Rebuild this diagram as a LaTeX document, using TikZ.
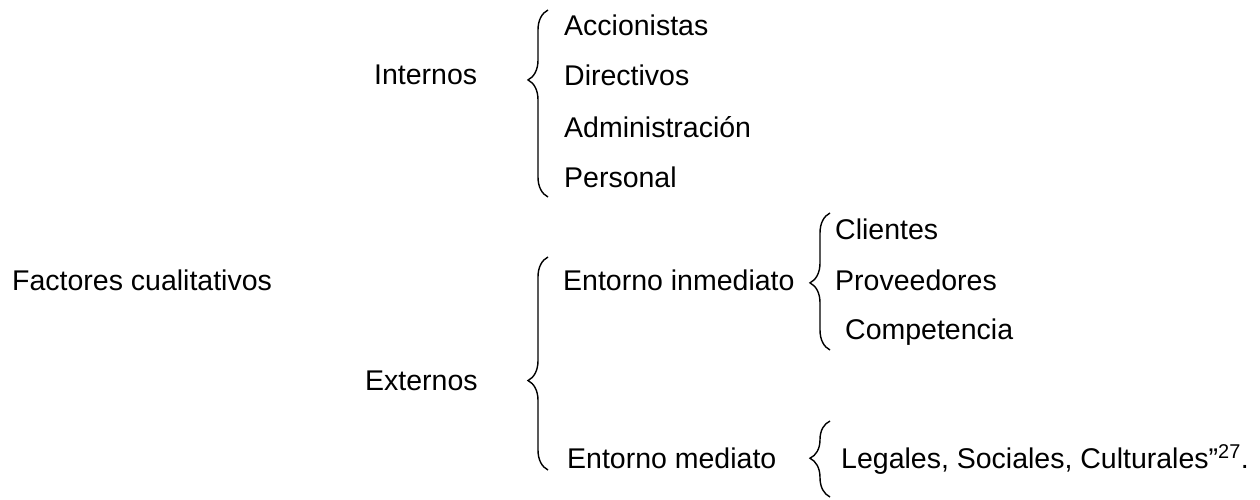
\documentclass[tikz,border=0pt]{standalone}
\usepackage{fontspec}
\setmainfont{Liberation Sans}
\usetikzlibrary{decorations.pathreplacing}
\tikzset{
	item/.style={anchor=base west,inner sep=0pt,font=\fontsize{28.5}{34}\selectfont},
	curly/.style={decorate,decoration={brace,amplitude=20pt,aspect=#1},line width=1.4pt}
}
\begin{document}
\begin{tikzpicture}[x=1pt,y=-1pt]
	\useasboundingbox (0,0) rectangle (1260,500);
	% first level
	\node[item] (factores) at (12,290) {Factores cualitativos};
	\node[item] (internos) at (374,85) {Internos};
	\node[item] (externos) at (365,390) {Externos};
	% internal factors
	\foreach \y/\n/\t in {36/acc/Accionistas,86/dir/Directivos,137/adm/Administración,187/per/Personal}
	\node[item] (\n) at (564,\y) {\t};
	% external factors
	\node[item] (inmediato) at (563,290) {Entorno inmediato};
	\node[item] (mediato) at (567,468) {Entorno mediato};
	\node[item] (clientes) at (835,239) {Clientes};
	\node[item] (proveedores) at (835,290) {Proveedores};
	\node[item] (competencia) at (845,339) {Competencia};
	\node[item] (legales) at (841,468) {Legales, Sociales, Culturales”\textsuperscript{27}.};
	% braces
	\foreach \n/\x/\a/\b/\s in {b1/548/197/10/0.626,b2/830/350/213/0.49,b3/548/470/257/0.42,b4/830/497/421/0.51}{
		\coordinate (\n a) at (\x,\a);
		\coordinate (\n b) at (\x,\b);
		\draw[curly=\s] (\n a) -- (\n b);
	}
\end{tikzpicture}
\end{document}
